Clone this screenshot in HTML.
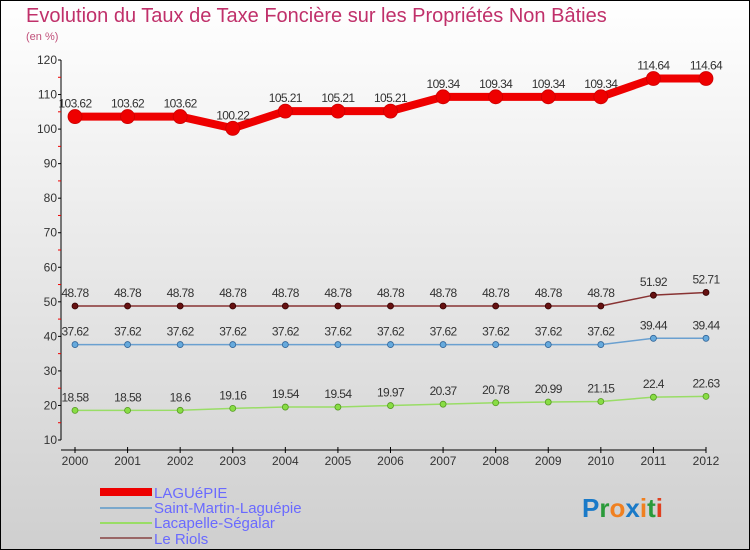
<!DOCTYPE html>
<html><head><meta charset="utf-8"><style>
body{margin:0}
#c{width:750px;height:550px;position:relative;overflow:hidden;font-family:"Liberation Sans",sans-serif}
</style></head><body>
<div id="c">
<svg id="s" width="750" height="550" xmlns="http://www.w3.org/2000/svg">
<defs><linearGradient id="bg" x1="0" y1="0" x2="0" y2="1"><stop offset="0" stop-color="#ffffff"/><stop offset="1" stop-color="#cfcfcf"/></linearGradient></defs>
<rect x="0.5" y="0.5" width="749" height="549" fill="url(#bg)" stroke="#000"/>
<text x="26" y="22" font-size="20" fill="#c0306a">Evolution du Taux de Taxe Foncière sur les Propriétés Non Bâties</text>
<text x="26" y="40" font-size="11" fill="#c0507a">(en %)</text>
<g id="axes"></g><g id="series"></g>
<g>
<rect x="100" y="488" width="52" height="8" fill="#e00"/>
<text x="154" y="498" font-size="15" fill="#6a6aff">LAGUéPIE</text>
<rect x="100" y="507" width="52" height="2" fill="#7aa8cc"/>
<text x="154" y="513" font-size="15" fill="#6a6aff">Saint-Martin-Laguépie</text>
<rect x="100" y="522" width="52" height="2" fill="#99dd66"/>
<text x="154" y="528" font-size="15" fill="#6a6aff">Lacapelle-Ségalar</text>
<rect x="100" y="537" width="52" height="2" fill="#996666"/>
<text x="154" y="544" font-size="15" fill="#6a6aff">Le Riols</text>
</g>
<g font-size="26" font-weight="bold">
<text x="582" y="517"><tspan fill="#1a7ac8">P</tspan><tspan fill="#2a9a3a">r</tspan><tspan fill="#f08020">o</tspan><tspan fill="#1a7ac8">x</tspan><tspan fill="#f08020">i</tspan><tspan fill="#2a9a3a">t</tspan><tspan fill="#e04020">i</tspan></text>
</g>
</svg>
</div>
<script>
const years=["2000","2001","2002","2003","2004","2005","2006","2007","2008","2009","2010","2011","2012"];
const yTicks=[10,20,30,40,50,60,70,80,90,100,110,120];
const laguepie=[103.62,103.62,103.62,100.22,105.21,105.21,105.21,109.34,109.34,109.34,109.34,114.64,114.64];
const saintMartin=[37.62,37.62,37.62,37.62,37.62,37.62,37.62,37.62,37.62,37.62,37.62,39.44,39.44];
const lacapelle=[18.58,18.58,18.6,19.16,19.54,19.54,19.97,20.37,20.78,20.99,21.15,22.4,22.63];
const leRiols=[48.78,48.78,48.78,48.78,48.78,48.78,48.78,48.78,48.78,48.78,48.78,51.92,52.71];
const NS="http://www.w3.org/2000/svg";
const X=i=>75+i*(706-75)/(years.length-1);
const Y=v=>440-(v-10)*380/110;
function mk(t,a,p){const e=document.createElementNS(NS,t);for(const k in a)e.setAttribute(k,a[k]);p.appendChild(e);return e;}
const ax=document.getElementById('axes');
let e=mk('line',{x1:61,y1:60,x2:61,y2:440,stroke:'#000'},ax);


e=mk('line',{x1:61,y1:450,x2:706,y2:450,stroke:'#000'},ax);


yTicks.forEach(v=>{mk('line',{x1:58,y1:Y(v),x2:61,y2:Y(v),stroke:'#000'},ax);
 if(v<120)mk('line',{x1:58,y1:Y(v+5),x2:61,y2:Y(v+5),stroke:'#e00'},ax);
 const t=mk('text',{x:57,y:Y(v)+4,'font-size':12,'text-anchor':'end',fill:'#333'},ax);t.textContent=v;
 
 });
years.forEach((y,i)=>{mk('line',{x1:X(i),y1:447,x2:X(i),y2:453,stroke:'#000'},ax);
 const t=mk('text',{x:X(i),y:465,'font-size':12,'text-anchor':'middle',fill:'#333'},ax);t.textContent=y;
 
 });
const sg=document.getElementById('series');
function draw(data,name,color,w,r,dot,stroke){
 const g=mk('g',{},sg);
 
 
 mk('polyline',{points:data.map((v,i)=>X(i)+','+Y(v)).join(' '),fill:'none',stroke:color,'stroke-width':w,'stroke-linejoin':'round'},g);
 data.forEach((v,i)=>{const c=mk('circle',{cx:X(i),cy:Y(v),r:r,fill:dot,stroke:stroke,'stroke-width':0.8},g);
  
  
  const t=mk('text',{x:X(i),y:Y(v)-9,'font-size':12,'text-anchor':'middle',fill:'#333','letter-spacing':'-0.6'},g);t.textContent=v;
  
  });
}
draw(lacapelle,'lacapelle','#99dd66',1.5,3,'#88dd44','#559922');
draw(saintMartin,'saint-martin','#6aa0d0',1.5,3,'#66aadd','#336699');
draw(leRiols,'le-riols','#883333',1.5,3,'#661111','#330000');
draw(laguepie,'laguepie','#ee0000',8,7,'#ee0000','#cc0000');
</script>
</body></html>
